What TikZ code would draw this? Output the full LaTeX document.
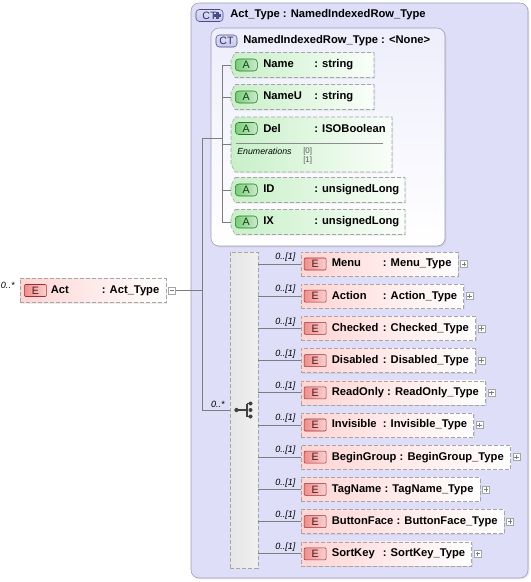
\documentclass[tikz,border=0pt]{standalone}
\usepackage{fontspec}
\setmainfont{Liberation Sans}
\usetikzlibrary{positioning,shadows}

\definecolor{ctfill}{RGB}{222,222,248}
\definecolor{ctinner}{RGB}{238,238,252}
\definecolor{ctline}{RGB}{155,155,175}
\definecolor{ctbadge}{RGB}{200,200,242}
\definecolor{ctdark}{RGB}{75,75,135}
\definecolor{attrgreen}{RGB}{200,240,200}
\definecolor{agreen}{RGB}{120,205,120}
\definecolor{adark}{RGB}{45,115,45}
\definecolor{elpink}{RGB}{255,212,212}
\definecolor{ered}{RGB}{234,122,122}
\definecolor{edark}{RGB}{160,45,45}
\definecolor{boxline}{RGB}{165,165,165}
\definecolor{wire}{RGB}{125,125,125}

% name column of a row: fixed width, grows for long names
\newsavebox\colbox
\newcommand\namecol[1]{\sbox\colbox{#1\ }%
  \ifdim\wd\colbox<38.25pt\makebox[38.25pt][l]{\usebox\colbox}\else\usebox\colbox\fi}
% attribute outline, cut on the left
\newcommand\attrbg[4]{\path[attrshape] (#1+4,#2) -- (#3,#2) -- (#3,#4) -- (#1+4,#4)
  -- (#1,#4-8) -- (#1,#2+8) -- cycle;}

\begin{document}
\begin{tikzpicture}[x=0.75pt,y=-0.75pt,
    conn/.style={draw=wire,line width=0.6pt},
    title/.style={anchor=west,inner sep=0pt,font=\bfseries\fontsize{8.4}{10}\selectfont},
    ctbox/.style={draw=ctline,rounded corners=6pt,
      drop shadow={shadow xshift=1pt,shadow yshift=-1pt,opacity=0.18}},
    ctbadge/.style={draw=ctdark,top color=ctbadge!60,bottom color=ctbadge,rounded corners=2.5pt,
      minimum width=15.75pt,minimum height=9pt,inner sep=0pt,text=ctdark!60!black,
      font=\fontsize{8}{9}\selectfont},
    attrshape/.style={draw=boxline,dash pattern=on 3pt off 1.5pt,left color=attrgreen,
      right color=attrgreen!10,drop shadow={shadow xshift=0.8pt,shadow yshift=-0.8pt,opacity=0.15}},
    attr/.style={anchor=west,inner sep=0pt,font=\bfseries\fontsize{8.4}{10}\selectfont,
      execute at begin node={\hspace*{24pt}}},
    abadge/.style={draw=adark,left color=agreen,right color=agreen!40,rounded corners=2.5pt,
      minimum width=16.5pt,minimum height=9pt,inner sep=0pt,text=adark!50!black,
      font=\fontsize{8}{9}\selectfont},
    elem/.style={anchor=west,draw=boxline,dash pattern=on 3pt off 1.5pt,left color=elpink,
      right color=white,minimum height=18pt,inner xsep=4.9pt,inner ysep=0pt,
      font=\bfseries\fontsize{8.4}{10}\selectfont,execute at begin node={\hspace*{18.4pt}},
      drop shadow={shadow xshift=0.8pt,shadow yshift=-0.8pt,opacity=0.15}},
    ebadge/.style={draw=edark,left color=ered!85,right color=ered!35,rounded corners=0.8pt,
      minimum width=16.5pt,minimum height=9pt,inner sep=0pt,text=edark!50!black,
      font=\fontsize{8}{9}\selectfont},
    expand/.style={draw=boxline,fill=white,minimum size=5.25pt,inner sep=0pt,
      path picture={\draw[wire,line width=0.5pt]
        ([xshift=1pt]path picture bounding box.west) -- ([xshift=-1pt]path picture bounding box.east)
        ([yshift=-1pt]path picture bounding box.north) -- ([yshift=1pt]path picture bounding box.south);}},
    collapse/.style={draw=boxline,fill=white,minimum size=5.25pt,inner sep=0pt,
      path picture={\draw[wire,line width=0.5pt]
        ([xshift=1pt]path picture bounding box.west) -- ([xshift=-1pt]path picture bounding box.east);}},
    seqbox/.style={draw=boxline,dash pattern=on 3pt off 1.5pt,left color=black!10,
      middle color=black!2,right color=black!6,minimum width=21pt,minimum height=237pt,inner sep=0pt},
    mult/.style={anchor=south east,inner sep=1pt,xshift=-2.5pt,yshift=0.5pt,
      font=\itshape\fontsize{6.8}{8}\selectfont},
    enum/.style={anchor=west,inner sep=0pt,font=\itshape\fontsize{6.6}{8}\selectfont},
    enumval/.style={anchor=west,inner sep=0pt,text=black!65,font=\fontsize{6}{7}\selectfont}]
    \useasboundingbox (0,0) rectangle (531,582);
    %% complex types
    \path[ctbox,fill=ctfill] (191,3) rectangle (528,578);
    \node[ctbadge,minimum width=20.25pt] (ctAct) at (209.5,15.5) {CT\hspace{6.75pt}};
    \draw[ctdark,line width=1.7pt] (214,15.5) -- (221,15.5) (217.5,12) -- (217.5,19);
    \node[title] (actType) at (230,15) {Act\_Type : NamedIndexedRow\_Type};
    \path[ctbox,top color=ctinner,bottom color=white] (211,28) rectangle (445,246);
    \node[ctbadge] (ctRow) at (226.5,41) {CT};
    \node[title] (rowType) at (243,41) {NamedIndexedRow\_Type : <None>};
    %% attributes
    \attrbg{231}{52.5}{374}{77.5}
    \attrbg{231}{84.5}{374}{109.5}
    \attrbg{231}{117}{392}{172}
    \attrbg{231}{177.5}{405}{202.5}
    \attrbg{231}{209.5}{405}{234.5}
    \node[attr] (aName) at (231,65) {\namecol{Name}: string};
    \node[attr] (aNameU) at (231,97) {\namecol{NameU}: string};
    \node[attr] (aDel) at (231,128.5) {\namecol{Del}: ISOBoolean};
    \node[attr] (aID) at (231,190) {\namecol{ID}: unsignedLong};
    \node[attr] (aIX) at (231,222) {\namecol{IX}: unsignedLong};
    \node[abadge,right=3pt of aName.west] (aNameA) {A};
    \node[abadge,right=3pt of aNameU.west] (aNameUA) {A};
    \node[abadge,right=3pt of aDel.west] (aDelA) {A};
    \node[abadge,right=3pt of aID.west] (aIDA) {A};
    \node[abadge,right=3pt of aIX.west] (aIXA) {A};
    \draw[black!45,line width=0.6pt] (236,143.5) -- (383,143.5);
    \node[enum] (delEnum) at (237,151.5) {Enumerations};
    \node[enumval] (delV0) at (303,151) {[0]};
    \node[enumval] (delV1) at (303,160) {[1]};
    \coordinate (delTip) at (231,144.5);
    %% root element and sequence
    \node[elem] (act) at (19.5,290.5) {\namecol{Act}: Act\_Type};
    \node[ebadge,right=3.5pt of act.west] (actE) {E};
    \node[collapse,right=1.5pt of act.east] (actC) {};
    \node[mult] (actM) at (act.west) {0..*};
    \node[seqbox] (seq) at (244,410) {};
    \fill[black!75] (236.5,410) circle[radius=1.6pt];
    \draw[black!75,line width=0.8pt] (236.5,410) -- (247,410) (247,403.5) -- (247,416.5)
      (247,403.5) -- (250.5,403.5) (247,416.5) -- (250.5,416.5);
    \fill[black!75] (250.5,403.5) circle[radius=1.5pt] (250.5,410) circle[radius=1.5pt]
      (250.5,416.5) circle[radius=1.5pt];
    %% child elements
    \node[elem] (menu) at (300.5,264) {\namecol{Menu}: Menu\_Type};
    \node[elem] (action) at (300.5,296.2) {\namecol{Action}: Action\_Type};
    \node[elem] (checked) at (300.5,328.4) {\namecol{Checked}: Checked\_Type};
    \node[elem] (disabled) at (300.5,360.6) {\namecol{Disabled}: Disabled\_Type};
    \node[elem] (readOnly) at (300.5,392.8) {\namecol{ReadOnly}: ReadOnly\_Type};
    \node[elem] (invisible) at (300.5,425) {\namecol{Invisible}: Invisible\_Type};
    \node[elem] (beginGroup) at (300.5,457.2) {\namecol{BeginGroup}: BeginGroup\_Type};
    \node[elem] (tagName) at (300.5,489.4) {\namecol{TagName}: TagName\_Type};
    \node[elem] (buttonFace) at (300.5,521.6) {\namecol{ButtonFace}: ButtonFace\_Type};
    \node[elem] (sortKey) at (300.5,553.8) {\namecol{SortKey}: SortKey\_Type};
    \node[ebadge,right=2.5pt of menu.west] (menuE) {E};
    \node[ebadge,right=2.5pt of action.west] (actionE) {E};
    \node[ebadge,right=2.5pt of checked.west] (checkedE) {E};
    \node[ebadge,right=2.5pt of disabled.west] (disabledE) {E};
    \node[ebadge,right=2.5pt of readOnly.west] (readOnlyE) {E};
    \node[ebadge,right=2.5pt of invisible.west] (invisibleE) {E};
    \node[ebadge,right=2.5pt of beginGroup.west] (beginGroupE) {E};
    \node[ebadge,right=2.5pt of tagName.west] (tagNameE) {E};
    \node[ebadge,right=2.5pt of buttonFace.west] (buttonFaceE) {E};
    \node[ebadge,right=2.5pt of sortKey.west] (sortKeyE) {E};
    \node[expand,right=1.5pt of menu.east] (menuP) {};
    \node[expand,right=1.5pt of action.east] (actionP) {};
    \node[expand,right=1.5pt of checked.east] (checkedP) {};
    \node[expand,right=1.5pt of disabled.east] (disabledP) {};
    \node[expand,right=1.5pt of readOnly.east] (readOnlyP) {};
    \node[expand,right=1.5pt of invisible.east] (invisibleP) {};
    \node[expand,right=1.5pt of beginGroup.east] (beginGroupP) {};
    \node[expand,right=1.5pt of tagName.east] (tagNameP) {};
    \node[expand,right=1.5pt of buttonFace.east] (buttonFaceP) {};
    \node[expand,right=1.5pt of sortKey.east] (sortKeyP) {};
    %% connectors
    \coordinate (bus) at (202,138);
    \coordinate (abus) at (222,138);
    \draw[conn] (actC.east) -- (actC.east -| bus);
    \draw[conn] (bus) -- (bus |- seq.west) -- (seq.west) node[mult] (seqM) {0..*};
    \draw[conn] (bus) -- (abus);
    \draw[conn] (abus |- aName.west) -- (abus |- aIX.west);
    \draw[conn] (abus |- aName.west) -- (aName.west);
    \draw[conn] (abus |- aNameU.west) -- (aNameU.west);
    \draw[conn] (abus |- delTip) -- (delTip);
    \draw[conn] (abus |- aID.west) -- (aID.west);
    \draw[conn] (abus |- aIX.west) -- (aIX.west);
    \draw[conn] (menu.west -| seq.east) -- (menu.west) node[mult] (menuM) {0..[1]};
    \draw[conn] (action.west -| seq.east) -- (action.west) node[mult] (actionM) {0..[1]};
    \draw[conn] (checked.west -| seq.east) -- (checked.west) node[mult] (checkedM) {0..[1]};
    \draw[conn] (disabled.west -| seq.east) -- (disabled.west) node[mult] (disabledM) {0..[1]};
    \draw[conn] (readOnly.west -| seq.east) -- (readOnly.west) node[mult] (readOnlyM) {0..[1]};
    \draw[conn] (invisible.west -| seq.east) -- (invisible.west) node[mult] (invisibleM) {0..[1]};
    \draw[conn] (beginGroup.west -| seq.east) -- (beginGroup.west) node[mult] (beginGroupM) {0..[1]};
    \draw[conn] (tagName.west -| seq.east) -- (tagName.west) node[mult] (tagNameM) {0..[1]};
    \draw[conn] (buttonFace.west -| seq.east) -- (buttonFace.west) node[mult] (buttonFaceM) {0..[1]};
    \draw[conn] (sortKey.west -| seq.east) -- (sortKey.west) node[mult] (sortKeyM) {0..[1]};
    %
\end{tikzpicture}
\end{document}
